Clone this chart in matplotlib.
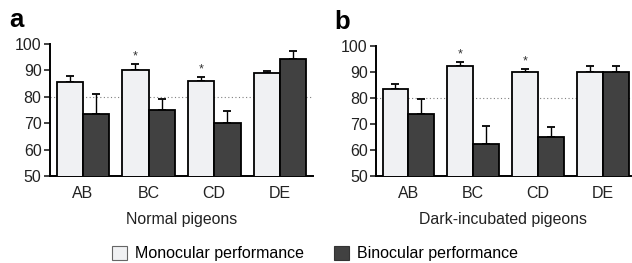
import numpy as np
import matplotlib.pyplot as plt
import matplotlib.patches as mpatches

plt.rcParams['font.family'] = ['Liberation Sans', 'DejaVu Sans']

pairs = ['AB', 'BC', 'CD', 'DE']

# panel a - normal pigeons
monoA = [85.5, 90.0, 86.0, 89.1]
monoA_err = [2.2, 2.4, 1.3, 0.7]
binoA = [73.4, 75.0, 70.0, 94.3]
binoA_err = [7.8, 4.3, 4.6, 2.9]
starsA = [False, True, True, False]

# panel b - dark-incubated pigeons
monoB = [83.3, 92.2, 89.9, 90.1]
monoB_err = [2.1, 1.6, 1.4, 2.2]
binoB = [73.8, 62.4, 65.0, 90.1]
binoB_err = [5.7, 6.7, 3.7, 2.4]
starsB = [False, True, True, False]

monoCol = '#f0f1f3'
binoCol = '#414141'

fig = plt.figure(figsize=(6.32, 2.63), dpi=100)
axA = fig.add_axes([0.079, 0.331, 0.416, 0.502])
axB = fig.add_axes([0.595, 0.331, 0.403, 0.494])

def panel(ax, mono, monoErr, bino, binoErr, stars, xlim, title, letter, lx, ly):
    x = np.arange(len(pairs))
    w = 0.4
    ax.bar(x - w / 2, mono, w, color=monoCol, edgecolor='black', linewidth=1.3, zorder=3)
    ax.bar(x + w / 2, bino, w, color=binoCol, edgecolor='black', linewidth=1.3, zorder=3)
    ax.errorbar(x - w / 2, mono, yerr=[np.zeros(4), monoErr], fmt='none', ecolor='black',
                elinewidth=1.0, capsize=3, capthick=1.3, zorder=2)
    ax.errorbar(x + w / 2, bino, yerr=[np.zeros(4), binoErr], fmt='none', ecolor='black',
                elinewidth=1.0, capsize=3, capthick=1.3, zorder=2)
    for i, s in enumerate(stars):
        if s:
            ax.text(x[i] - w / 2, mono[i] + monoErr[i] + 0.6, '*', ha='center', va='bottom',
                    fontsize=9, color='#333333')
    ax.axhline(80, color='#808080', linestyle=(0, (1, 2.2)), linewidth=0.8, zorder=1)
    ax.set_ylim(50, 100)
    ax.set_xlim(*xlim)
    ax.set_yticks([50, 60, 70, 80, 90, 100])
    ax.set_xticks(x)
    ax.set_xticklabels(pairs)
    ax.tick_params(axis='y', labelsize=11.5, length=4, width=1.2, pad=2, colors='#222222')
    ax.tick_params(axis='x', labelsize=11.5, length=0, pad=7, colors='#222222')
    for s in ['top', 'right']:
        ax.spines[s].set_visible(False)
    for s in ['left', 'bottom']:
        ax.spines[s].set_linewidth(1.4)
    ax.set_xlabel(title, fontsize=11.4, labelpad=8, color='#222222')
    ax.text(lx, ly, letter, transform=ax.transAxes,
            fontsize=18.5, fontweight='bold', ha='left', va='baseline')

panel(axA, monoA, monoA_err, binoA, binoA_err, starsA, (-0.5, 3.5), 'Normal pigeons', 'a', -0.153, 1.128)
panel(axB, monoB, monoB_err, binoB, binoB_err, starsB, (-0.5, 3.43), 'Dark-incubated pigeons', 'b', -0.165, 1.131)

h1 = mpatches.Patch(facecolor=monoCol, edgecolor='#666666', linewidth=0.8, label='Monocular performance')
h2 = mpatches.Patch(facecolor=binoCol, edgecolor='#333333', linewidth=0.8, label='Binocular performance')
fig.legend(handles=[h1, h2], loc='center', bbox_to_anchor=(0.498, 0.036), ncol=2, frameon=False,
           fontsize=11.5, handlelength=0.94, handleheight=1.0, handletextpad=0.5, columnspacing=1.9,
           borderpad=0, borderaxespad=0)

fig.savefig('out.png', dpi=100)
